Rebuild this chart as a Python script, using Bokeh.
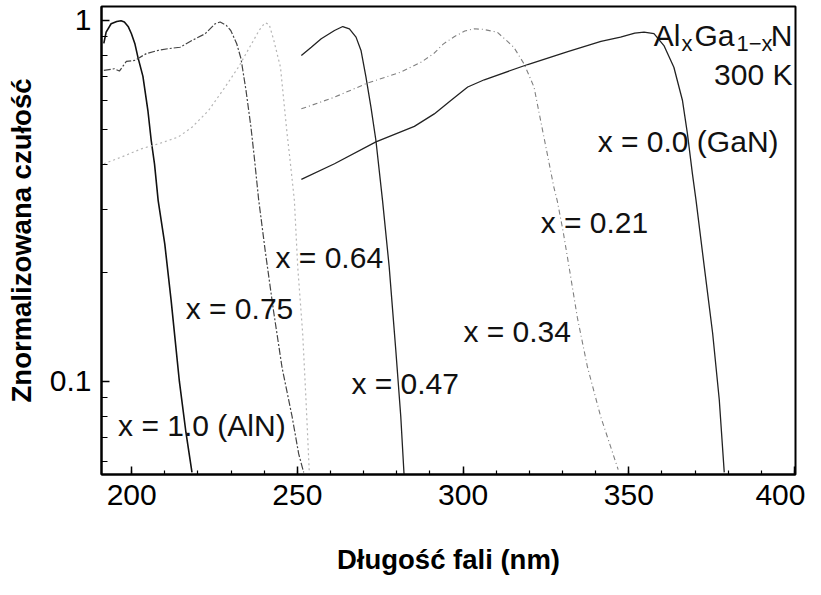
from bokeh.plotting import figure
from bokeh.models import FixedTicker, CustomJSTickFormatter, Label, ColumnDataSource
from bokeh.core.properties import value
from bokeh.embed import file_html
from bokeh.resources import INLINE

# ---------------- data ----------------
wl_x100 = [191.6, 192.3, 193.8, 195.5, 196.8, 197.8, 199.0, 199.9, 201.0, 201.9,
           203.4, 204.9, 205.9, 206.9, 208.0, 210.0, 211.9, 214.4, 216.4, 218.2]
r_x100 = [0.864, 0.928, 0.979, 0.993, 0.998, 0.99, 0.96, 0.92, 0.86, 0.79,
          0.70, 0.563, 0.465, 0.40, 0.317, 0.24, 0.168, 0.10, 0.072, 0.056]

wl_x075 = [191.6, 194.8, 196.3, 198.4, 200.9, 204.5, 208.0, 211.0, 214.6, 218.2,
           222.2, 225.2, 226.7, 228.5, 229.9, 231.7, 233.0, 234.5, 236.0, 237.0,
           238.3, 240.3, 242.8, 245.4, 248.4, 250.4, 251.9]
r_x075 = [0.727, 0.735, 0.724, 0.77, 0.775, 0.81, 0.826, 0.835, 0.843, 0.88,
          0.919, 0.979, 0.99, 0.97, 0.938, 0.862, 0.783, 0.64, 0.506, 0.418,
          0.32, 0.23, 0.157, 0.109, 0.08, 0.063, 0.056]

wl_x064 = [191.6, 196.8, 202.9, 208.0, 214.0, 218.2, 223.2, 228.2, 232.2, 236.2,
           238.5, 240.2, 241.5, 242.9, 244.9, 245.9, 246.9, 247.7, 249.1, 250.1,
           251.6, 252.6, 253.6]
r_x064 = [0.401, 0.418, 0.441, 0.455, 0.475, 0.506, 0.563, 0.654, 0.742, 0.862,
          0.94, 0.985, 0.975, 0.88, 0.742, 0.60, 0.485, 0.418, 0.317, 0.208,
          0.136, 0.089, 0.056]

wl_x047 = [251.2, 254.2, 257.2, 261.2, 263.7, 265.7, 267.7, 269.2, 270.7, 272.2,
           273.7, 275.7, 277.7, 279.7, 281.2, 282.2]
r_x047 = [0.80, 0.843, 0.89, 0.938, 0.962, 0.948, 0.899, 0.826, 0.697, 0.575,
          0.465, 0.317, 0.208, 0.122, 0.08, 0.055]

wl_x034 = [251.2, 261.2, 271.2, 281.2, 287.4, 291.2, 294.0, 297.2, 300.5, 303.3,
           306.0, 310.3, 313.4, 315.3, 318.4, 321.4, 323.4, 325.4, 327.4, 328.4,
           330.2, 332.0, 334.5, 337.5, 341.5, 346.8]
r_x034 = [0.569, 0.613, 0.671, 0.719, 0.767, 0.81, 0.86, 0.90, 0.935, 0.948,
          0.945, 0.928, 0.875, 0.843, 0.758, 0.654, 0.528, 0.427, 0.345, 0.317,
          0.26, 0.207, 0.15, 0.11, 0.08, 0.057]

wl_x000 = [251.2, 261.2, 273.7, 285.3, 291.3, 296.3, 301.4, 306.4, 319.5, 331.6,
           341.6, 347.5, 351.8, 354.6, 357.6, 360.6, 363.6, 366.2, 367.7, 369.2,
           370.3, 372.8, 375.3, 377.3, 378.8]
r_x000 = [0.363, 0.401, 0.461, 0.509, 0.551, 0.60, 0.654, 0.685, 0.755, 0.82,
          0.875, 0.899, 0.922, 0.928, 0.919, 0.852, 0.742, 0.60, 0.485, 0.376,
          0.317, 0.207, 0.136, 0.089, 0.056]

x_major_ticks = [200, 250, 300, 350, 400]
x_minor_ticks = [200, 210, 220, 230, 240, 250, 260, 270, 280, 290, 300,
                 310, 320, 330, 340, 350, 360, 370, 380, 390, 400]
y_major_ticks = [0.1, 1.0]
y_minor_ticks = [0.06, 0.07, 0.08, 0.09, 0.2, 0.3, 0.4, 0.5, 0.6, 0.7, 0.8, 0.9]

curve_labels = ["x = 0.0 (GaN)", "x = 0.21", "x = 0.34", "x = 0.47",
                "x = 0.64", "x = 0.75", "x = 1.0 (AlN)"]
label_wl = [340.6, 323.4, 300.1, 266.3, 243.4, 216.3, 195.9]
label_r = [0.462, 0.2757, 0.1376, 0.0988, 0.2206, 0.1593, 0.0755]

FONT = "Liberation Sans"

p = figure(width=805, height=579, y_axis_type="log",
           x_range=(190.9, 400.3), y_range=(0.05525, 1.093),
           output_backend="svg", toolbar_location=None,
           min_border_left=101, min_border_right=10, min_border_top=6,
           min_border_bottom=105, background_fill_color="white",
           border_fill_color="white")
p.grid.visible = False
p.outline_line_color = "black"
p.outline_line_width = 2

# curves
p.line(wl_x100, r_x100, line_color="#111111", line_width=1.6)
p.line(wl_x075, r_x075, line_color="#444444", line_width=1.2, line_dash="7 2 2 2")
p.line(wl_x064, r_x064, line_color="#b5b5b5", line_width=1.2, line_dash="2 3")
p.line(wl_x047, r_x047, line_color="#222222", line_width=1.3)
p.line(wl_x034, r_x034, line_color="#808080", line_width=1.1, line_dash="5 3 1 3")
p.line(wl_x000, r_x000, line_color="#222222", line_width=1.3)

# curve labels
src = ColumnDataSource(dict(x=label_wl, y=label_r, t=curve_labels))
p.text(x="x", y="y", text="t", source=src, text_font=value(FONT),
       text_font_size="30px", text_align="left", text_baseline="middle",
       text_color="#111111")

# title block (top right)
tx, ty = 399.4, 0.909
pieces = [("N", "30px", 0, 0), ("1\u2212x", "22px", -20, -8), ("Ga", "30px", -58, 0),
          ("x", "22px", -100, -8), ("Al", "30px", -112, 0)]
for txt, fs, xo, yo in pieces:
    p.add_layout(Label(x=tx, y=ty, text=txt, x_offset=xo, y_offset=yo,
                       text_font=FONT, text_font_size=fs, text_align="right",
                       text_baseline="alphabetic", text_color="#111111"))
p.add_layout(Label(x=tx, y=0.7086, text="300 K", text_font=FONT,
                   text_font_size="30px", text_align="right",
                   text_baseline="middle", text_color="#111111"))

# axes
xa = p.xaxis[0]
xa.ticker = FixedTicker(ticks=x_major_ticks, minor_ticks=x_minor_ticks)
xa.axis_label = "D\u0142ugo\u015b\u0107 fali (nm)"
ya = p.yaxis[0]
ya.ticker = FixedTicker(ticks=y_major_ticks, minor_ticks=y_minor_ticks)
ya.formatter = CustomJSTickFormatter(code="return tick.toString();")
ya.axis_label = "Znormalizowana czu\u0142o\u015b\u0107"

for ax in (xa, ya):
    ax.major_tick_in = 8
    ax.major_tick_out = 0
    ax.minor_tick_in = 4
    ax.minor_tick_out = 0
    ax.major_tick_line_color = "black"
    ax.minor_tick_line_color = "black"
    ax.major_tick_line_width = 1.5
    ax.minor_tick_line_width = 1.2
    ax.axis_line_color = "black"
    ax.axis_line_width = 2
    ax.major_label_text_font = FONT
    ax.major_label_text_font_size = "30px"
    ax.major_label_text_color = "black"
    ax.axis_label_text_font = FONT
    ax.axis_label_text_font_size = "27.5px"
    ax.axis_label_text_font_style = "bold"
    ax.axis_label_text_color = "black"
    ax.major_label_standoff = 10
ya.minor_tick_in = 6
ya.axis_label_standoff = 10
xa.axis_label_standoff = 36

open("out.html", "w").write(file_html(p, INLINE))
